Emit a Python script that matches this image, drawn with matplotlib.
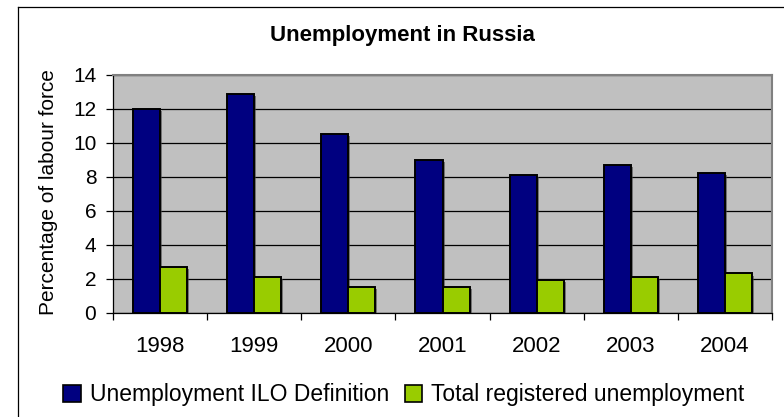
import numpy as np
import matplotlib.pyplot as plt
from matplotlib.patches import Patch
from matplotlib.lines import Line2D
import matplotlib.patheffects as pe

plt.rcParams['font.family'] = ['Liberation Sans', 'DejaVu Sans']

years = ['1998', '1999', '2000', '2001', '2002', '2003', '2004']
ilo = [12.0, 12.9, 10.5, 9.0, 8.1, 8.7, 8.2]
registered = [2.7, 2.1, 1.5, 1.5, 1.9, 2.1, 2.3]

W, H = 784, 417
fig = plt.figure(figsize=(W / 100, H / 100), dpi=100)
fig.patch.set_facecolor('white')

# chart frame (runs off the right and bottom edges)
fig.add_artist(Line2D([18 / W, 1.0], [1 - 7 / H, 1 - 7 / H], color='black', lw=0.9))
fig.add_artist(Line2D([18 / W, 18 / W], [0.0, 1 - 7 / H], color='black', lw=0.9))

ax = fig.add_axes([113 / W, (H - 312.5) / H, (772 - 113) / W, (312.5 - 75) / H])
ax.set_facecolor('#C0C0C0')

x = np.arange(len(years))
bw = 0.287
shadow = [pe.SimplePatchShadow(offset=(1.5, -1.5), shadow_rgbFace='#404040', alpha=0.6), pe.Normal()]
b1 = ax.bar(x - bw / 2, ilo, bw, color='#000080', edgecolor='black', linewidth=1.4, zorder=3)
b2 = ax.bar(x + bw / 2, registered, bw, color='#99CC00', edgecolor='black', linewidth=1.4, zorder=3)
for b in list(b1) + list(b2):
    b.set_path_effects(shadow)

ax.set_xlim(-0.5, len(years) - 0.5)
ax.set_ylim(0, 14)
ax.set_yticks(range(0, 15, 2))
ax.yaxis.grid(True, color='black', linewidth=0.9, zorder=1)
ax.set_axisbelow(True)

ax.set_xticks(np.arange(-0.5, len(years), 1.0))
ax.set_xticklabels([])
ax.set_xticks(x, minor=True)
ax.set_xticklabels(years, minor=True, fontsize=16)
ax.tick_params(axis='x', which='major', length=5, width=0.9, direction='out')
ax.tick_params(axis='x', which='minor', length=0, pad=17)
ax.tick_params(axis='y', length=5, width=0.9, direction='out', pad=7, labelsize=15)

for s in ['left', 'bottom']:
    ax.spines[s].set_color('black')
    ax.spines[s].set_linewidth(0.9)
for s in ['top', 'right']:
    ax.spines[s].set_color('#808080')
    ax.spines[s].set_linewidth(1.5)

fig.text(402 / W, 1 - 36 / H, 'Unemployment in Russia', ha='center', va='center',
         fontsize=16, fontweight='bold')
fig.text(49 / W, 1 - 192 / H, 'Percentage of labour force', ha='center', va='center',
         rotation=90, fontsize=15)

handles = [Patch(facecolor='#000080', edgecolor='black', linewidth=1.2),
           Patch(facecolor='#99CC00', edgecolor='black', linewidth=1.2)]
fig.legend(handles, ['Unemployment ILO Definition', 'Total registered unemployment'],
           loc='center', bbox_to_anchor=(404 / W, 1 - 395 / H), ncol=2, frameon=False,
           fontsize=16.5, handlelength=0.75, handleheight=0.75, handletextpad=0.4,
           columnspacing=0.7, borderpad=0, borderaxespad=0)

fig.savefig('out.png', dpi=100)
